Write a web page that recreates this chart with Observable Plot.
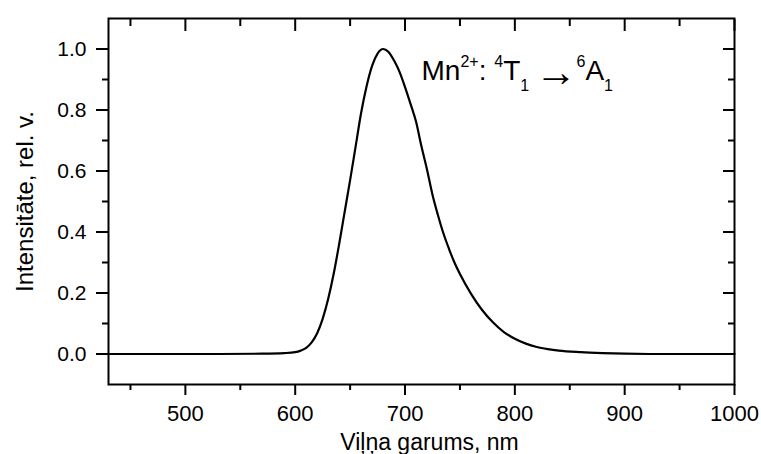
<!DOCTYPE html>
<html>
<head>
<meta charset="utf-8">
<script src="https://cdn.jsdelivr.net/npm/d3@7"></script>
<script src="https://cdn.jsdelivr.net/npm/@observablehq/plot@0.6"></script>
<style>
  html, body { margin: 0; padding: 0; background: #fff; }
  svg { font-family: "Liberation Sans", Arial, sans-serif; }
</style>
</head>
<body>
<div id="chart"></div>
<script>
// Emission spectrum (wavelength in nm, relative intensity)
const wavelength = [430, 480, 530, 570, 590, 600, 605, 610, 615, 620, 625, 630, 635, 640, 645, 650, 655, 660, 665, 670, 675, 680, 685, 690, 695, 700, 705, 710, 715, 720, 725, 730, 735, 740, 745, 750, 760, 770, 780, 790, 800, 810, 820, 830, 840, 860, 880, 900, 930, 960, 1000];
const intensity  = [0, 0, 0, 0.001, 0.003, 0.006, 0.011, 0.02, 0.038, 0.068, 0.115, 0.18, 0.262, 0.36, 0.465, 0.57, 0.68, 0.79, 0.878, 0.945, 0.985, 1.0, 0.99, 0.962, 0.925, 0.875, 0.82, 0.762, 0.68, 0.605, 0.522, 0.455, 0.395, 0.345, 0.3, 0.262, 0.198, 0.145, 0.104, 0.072, 0.05, 0.034, 0.023, 0.016, 0.011, 0.006, 0.003, 0.001, 0, 0, 0];

const xMajorTicks = [500, 600, 700, 800, 900, 1000];
const xMinorTicks = [450, 550, 650, 750, 850, 950];
const yMajorTicks = [0, 0.2, 0.4, 0.6, 0.8, 1.0];
const yMinorTicks = [0.1, 0.3, 0.5, 0.7, 0.9];
const xDomain = [430, 1000];
const yDomain = [-0.1, 1.1];

const xTitle = "Viļņa garums, nm";
const yTitle = "Intensitāte, rel. v.";

// Annotation: Mn²⁺: ⁴T₁ → ⁶A₁
const annotationParts = [["Mn", "base"], ["2+", "sup"], [": ", "base"], ["4", "sup"], ["T", "base"], ["1", "sub"], [" \u2192 ", "arrow"], ["6", "sup"], ["A", "base"], ["1", "sub"]];
const annotationAt = {x: 715, y: 0.897};
const annotationText = annotationParts.map(d => d[0]).join("");

const data = wavelength.map((w, i) => ({w, v: intensity[i]}));

const fmt = d3.format(".1f");
const ink = "#000";

const plot = Plot.plot({
  width: 761,
  height: 454,
  marginLeft: 108,
  marginRight: 27,
  marginTop: 18,
  marginBottom: 70,
  style: {fontFamily: "'Liberation Sans', Arial, sans-serif", background: "#fff", color: ink},
  x: {domain: xDomain, label: null},
  y: {domain: yDomain, label: null},
  marks: [
    // bottom axis: major outward with labels
    Plot.axisX(xMajorTicks, {anchor: "bottom", tickSize: 11, tickPadding: 10, fontSize: 22, strokeWidth: 2, tickFormat: d => String(d), label: null}),
    Plot.axisX(xMinorTicks, {anchor: "bottom", tickSize: 6, strokeWidth: 2, fill: "none", label: null}),
    // top axis: inward ticks
    Plot.axisX(xMajorTicks, {anchor: "top", tickSize: 12, insetTop: 12, strokeWidth: 2, fill: "none", label: null}),
    Plot.axisX(xMinorTicks, {anchor: "top", tickSize: 7, insetTop: 7, strokeWidth: 2, fill: "none", label: null}),
    // left axis
    Plot.axisY(yMajorTicks, {anchor: "left", tickSize: 12, tickPadding: 10, fontSize: 21, strokeWidth: 2, tickFormat: fmt, label: null}),
    Plot.axisY(yMinorTicks, {anchor: "left", tickSize: 6, strokeWidth: 2, fill: "none", label: null}),
    // right axis: inward ticks
    Plot.axisY(yMajorTicks, {anchor: "right", tickSize: 12, insetRight: 12, strokeWidth: 2, fill: "none", label: null}),
    Plot.axisY(yMinorTicks, {anchor: "right", tickSize: 7, insetRight: 7, strokeWidth: 2, fill: "none", label: null}),
    Plot.frame({stroke: ink, strokeWidth: 2}),
    Plot.line(data, {x: "w", y: "v", stroke: ink, strokeWidth: 2.2, curve: "monotone-x"}),
    // axis titles
    Plot.text([xTitle], {text: d => d, frameAnchor: "bottom", textAnchor: "middle", lineAnchor: "bottom", dy: 65, dx: 8, fontSize: 23, fill: ink}),
    Plot.text([yTitle], {text: d => d, frameAnchor: "left", textAnchor: "middle", rotate: -90, lineAnchor: "middle", dx: -83, fontSize: 24, fill: ink}),
    // annotation
    Plot.text([annotationAt], {x: "x", y: "y", text: () => annotationText, textAnchor: "start", lineAnchor: "bottom", fontSize: 28, fill: ink})
  ]
});

// rebuild the annotation with real superscripts / subscripts
d3.select(plot).selectAll("text").each(function() {
  if (this.textContent !== annotationText) return;
  const t = d3.select(this);
  t.text(null);
  let off = 0;
  for (const [s, kind] of annotationParts) {
    const target = kind === "sup" ? -13 : kind === "sub" ? 11 : kind === "arrow" ? 6 : 0;
    const ts = t.append("tspan").text(s).attr("dy", target - off);
    if (kind === "sup" || kind === "sub") ts.attr("font-size", 16);
    if (kind === "arrow") ts.attr("font-size", 42).attr("letter-spacing", -6);
    off = target;
  }
});

document.getElementById("chart").appendChild(plot);
</script>
</body>
</html>
